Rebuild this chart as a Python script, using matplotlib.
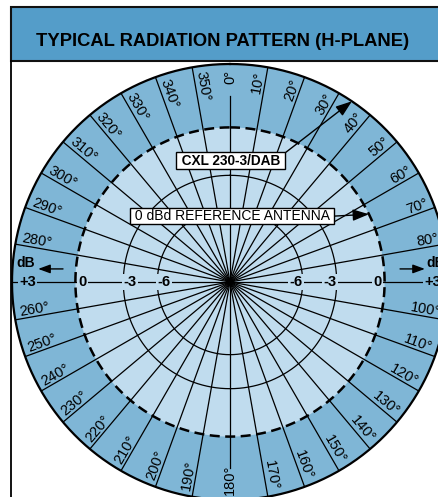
import numpy as np
import matplotlib
matplotlib.use("Agg")
import matplotlib.pyplot as plt
from matplotlib.patches import Rectangle
from matplotlib.lines import Line2D

# Rings of the dB scale, radius as relative field strength
ring_db = ['-6', '-3', '0', '+3']
ring_r = [0.47, 0.69, 1.0, 1.41]

# Spokes every 10 degrees, labels on all but 90 / 270 (dB scale sits there)
spoke_deg = list(range(0, 360, 10))
label_deg = [d for d in spoke_deg if d not in (90, 270)]

# The two patterns (both omni in the H-plane)
pattern_name = 'CXL 230-3/DAB'
pattern_gain = 1.41      # +3 dBd
reference_name = '0 dBd REFERENCE ANTENNA'
reference_gain = 1.0     # 0 dBd

title = 'TYPICAL RADIATION PATTERN (H-PLANE)'

dark_blue = '#7fb6d6'
light_blue = '#c0dcee'
bar_blue = '#549dc9'

W, H = 439, 497
fig = plt.figure(figsize=(W / 100, H / 100), dpi=100)
fig.patch.set_facecolor('white')

# title bar and frame
fig.add_artist(Rectangle((11 / W, 1 - 61 / H), 1.0, 54 / H, transform=fig.transFigure,
                         facecolor=bar_blue, edgecolor='#111111', lw=1.5))
fig.add_artist(Line2D([11 / W, 11 / W], [0, 1 - 61 / H], transform=fig.transFigure,
                      color='black', lw=1.3))
ttl = fig.text(223 / W, 1 - 41 / H, title, ha='center', va='center', fontsize=16,
               fontweight='bold', fontstretch='condensed', family='Liberation Sans')
# original uses a condensed face: shrink the size until the width matches (~373 px)
fig.canvas.draw()
w = ttl.get_window_extent().width
ttl.set_fontsize(16 * 373 / w)

# polar chart, bigger than the figure (cut off at right and bottom like the original)
ax = fig.add_axes([12 / W, (H - 500) / H, 436 / W, 436 / H], projection='polar')
ax.set_theta_zero_location('N')
ax.set_theta_direction(-1)
ax.set_rlim(0, pattern_gain)
ax.set_xticks([])
ax.set_yticks([])
ax.grid(False)
ax.set_facecolor(dark_blue)
ax.spines['polar'].set_visible(False)

th = np.linspace(0, 2 * np.pi, 721)

# reference antenna area
ax.fill(th, np.full_like(th, reference_gain), color=light_blue, lw=0, zorder=1)

# spokes
for d in spoke_deg:
    r_end = 1.206 if d in (0, 180) else pattern_gain
    ax.plot([np.radians(d)] * 2, [0, r_end], color='black', lw=0.9, zorder=2)

# rings
for lab, r in zip(ring_db, ring_r):
    if lab == '0':
        ax.plot(th, np.full_like(th, reference_gain), color='black', lw=1.8,
                dashes=(4, 2.2), zorder=2.5)
    elif lab == '+3':
        ax.plot(th, np.full_like(th, pattern_gain), color='black', lw=1.6,
                zorder=2.5, clip_on=False)
    else:
        ax.plot(th, np.full_like(th, r), color='black', lw=0.9, zorder=2.5)

# degree labels
for d in label_deg:
    if d < 180:
        rot, ha = 90 - d, 'right'
    else:
        rot, ha = 270 - d, 'left'
    va = 'center' if d in (0, 180) else 'bottom'
    ax.text(np.radians(d), 1.375, f'{d}°', rotation=rot, rotation_mode='anchor',
            ha=ha, va=va, fontsize=10.5, family='Liberation Sans', zorder=3)

# dB scale on the horizontal axis
for lab, r in zip(ring_db, ring_r):
    rt = 1.31 if lab == '+3' else r - 0.045
    bg = dark_blue if lab == '+3' else light_blue
    for side in (90, 270):
        ax.text(np.radians(side), rt, lab, ha='center', va='center', fontsize=10.5,
                fontweight='bold', family='Liberation Sans', zorder=4,
                bbox=dict(boxstyle='square,pad=0.1', fc=bg, ec='none'))

# "dB" with arrows pointing outwards
for tx, ax0, ax1 in ((0.032, 0.117, 0.060), (0.972, 0.890, 0.947)):
    ax.text(tx, 0.543, 'dB', transform=ax.transAxes, ha='center', va='center',
            fontsize=10, fontweight='bold', family='Liberation Sans', zorder=4)
    ax.annotate('', xy=(ax1, 0.530), xytext=(ax0, 0.530), xycoords='axes fraction',
                arrowprops=dict(arrowstyle='-|>,head_length=0.6,head_width=0.22',
                                color='black', lw=1, shrinkA=0, shrinkB=0,
                                mutation_scale=12),
                annotation_clip=False, zorder=4)

# callouts
ax.annotate(' ' + pattern_name + ' ', xy=(np.radians(34), pattern_gain),
            xytext=(0.502, 0.778), textcoords='axes fraction', ha='center', va='center',
            fontsize=9.8, fontweight='bold', family='Liberation Sans',
            bbox=dict(boxstyle='square,pad=0.1', fc='white', ec='black', lw=1),
            arrowprops=dict(arrowstyle='-|>,head_length=0.7,head_width=0.25',
                            color='black', lw=1, relpos=(1, 1), shrinkA=0, shrinkB=0,
                            mutation_scale=14),
            annotation_clip=False, zorder=5)
ax.annotate(' ' + reference_name + ' ', xy=(np.radians(64), reference_gain),
            xytext=(0.505, 0.651), textcoords='axes fraction', ha='center', va='center',
            fontsize=10, family='Liberation Sans',
            bbox=dict(boxstyle='square,pad=0.08', fc='white', ec='black', lw=1),
            arrowprops=dict(arrowstyle='-|>,head_length=0.7,head_width=0.25',
                            color='black', lw=1, relpos=(1, 0.5), shrinkA=0, shrinkB=0,
                            mutation_scale=14),
            annotation_clip=False, zorder=5)

fig.savefig('out.png', dpi=100)
